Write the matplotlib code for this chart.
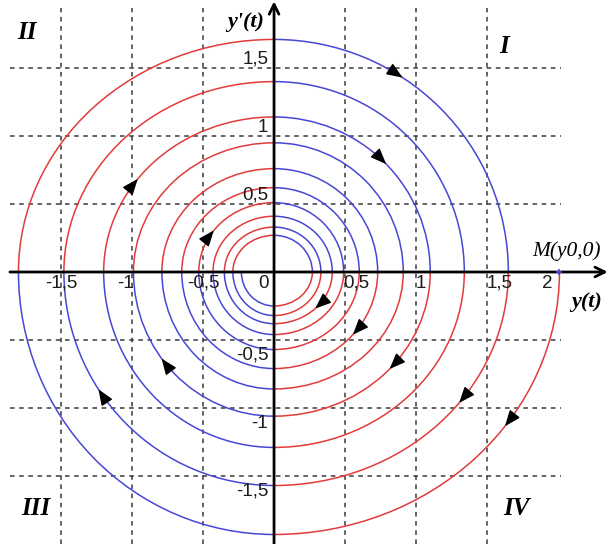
"""Phase portrait of a damped oscillator: spiral y'(t) vs y(t) drawn as quarter arcs."""

from __future__ import annotations

import matplotlib

matplotlib.use("Agg")
import matplotlib.pyplot as plt
import numpy as np
from matplotlib.patches import Arc

# axis crossings of the spiral, clockwise from M: +x, -y, -x, +y, +x, ...
CROSSINGS = [
    2.01, 1.93, 1.80, 1.71,
    1.65, 1.57, 1.48, 1.40,
    1.34, 1.29, 1.20, 1.14,
    1.10, 1.06, 0.99, 0.95,
    0.91, 0.86, 0.79, 0.76,
    0.73, 0.71, 0.65, 0.62,
    0.60, 0.57, 0.53, 0.51,
    0.49, 0.46, 0.43, 0.41,
    0.41, 0.38, 0.35, 0.33,
    0.33, 0.32, 0.29, 0.27,
    0.27, 0.25, 0.23,
]

# direction arrows: which quarter of the spiral and how far along it
ARROW_QUARTERS = [0, 3, 4, 5, 10, 11, 12, 13, 20, 26, 32]
ARROW_FRACTIONS = [0.40, 0.37, 0.42, 0.63, 0.41, 0.51, 0.47, 0.59, 0.45, 0.41, 0.50]

X_TICKS = [-1.5, -1.0, -0.5, 0.0, 0.5, 1.0, 1.5, 2.0]
X_TICK_LABELS = ["-1,5", "-1", "-0,5", "0", "0,5", "1", "1,5", "2"]
Y_TICKS = [-1.5, -1.0, -0.5, 0.5, 1.0, 1.5]
Y_TICK_LABELS = ["-1,5", "-1", "-0,5", "0,5", "1", "1,5"]
GRID_VALUES = [-1.5, -1.0, -0.5, 0.5, 1.0, 1.5]

QUADRANTS = ["I", "II", "III", "IV"]

RED = "#e23b3b"
BLUE = "#4747d6"


def quarter_axes(k: int) -> tuple[float, float]:
    # quarters that start on the x axis take their x semi-axis from the start point
    if k % 2 == 0:
        return CROSSINGS[k], CROSSINGS[k + 1]
    return CROSSINGS[k + 1], CROSSINGS[k]


def draw_spiral(ax: plt.Axes) -> None:
    for k in range(len(CROSSINGS) - 1):
        a, b = quarter_axes(k)
        theta1 = 270 - 90 * (k % 4)
        arc = Arc((0, 0), 2 * a, 2 * b, theta1=theta1, theta2=theta1 + 90,
                  color=RED if k % 2 == 0 else BLUE, lw=1.1, zorder=3)
        ax.add_patch(arc)


def draw_arrows(ax: plt.Axes) -> None:
    for k, frac in zip(ARROW_QUARTERS, ARROW_FRACTIONS):
        a, b = quarter_axes(k)
        phi = np.deg2rad(-90 * (k % 4) - 90 * frac)
        point = np.array([a * np.cos(phi), b * np.sin(phi)])
        direction = np.array([a * np.sin(phi), -b * np.cos(phi)])
        direction /= np.linalg.norm(direction)
        ax.annotate("", xy=point, xytext=point - 0.07 * direction,
                    arrowprops=dict(arrowstyle="-|>,head_length=0.75,head_width=0.3",
                                    color="black", lw=1.0, shrinkA=0, shrinkB=0,
                                    mutation_scale=13),
                    zorder=5)


def draw_frame(ax: plt.Axes) -> None:
    grid_style = dict(color="#3a3a3a", lw=1.1, linestyles=(0, (3, 3)), zorder=1)
    ax.vlines(GRID_VALUES, -2.0, 1.94, **grid_style)
    ax.hlines(GRID_VALUES, -1.86, 2.02, **grid_style)

    axis_props = dict(arrowstyle="->,head_length=0.5,head_width=0.25", color="black",
                      lw=2.0, shrinkA=0, shrinkB=0, mutation_scale=14)
    ax.annotate("", xy=(2.35, 0), xytext=(-1.86, 0), arrowprops=axis_props,
                annotation_clip=False, zorder=6)
    ax.annotate("", xy=(0, 1.99), xytext=(0, -2.0), arrowprops=axis_props,
                annotation_clip=False, zorder=6)

    tick_font = dict(family="Liberation Sans", fontsize=13.5, color="#1c1c1c", zorder=7)
    x_align = {"-1,5": ("center", 0.0), "-1": ("right", 0.01), "-0,5": ("center", 0.0),
               "0": ("right", -0.04), "0,5": ("left", -0.01), "1": ("left", 0.0),
               "1,5": ("left", 0.0), "2": ("right", -0.04)}
    for value, label in zip(X_TICKS, X_TICK_LABELS):
        ha, shift = x_align[label]
        ax.text(value + shift, -0.02, label, ha=ha, va="top", **tick_font)
    for value, label in zip(Y_TICKS, Y_TICK_LABELS):
        if value > 0:
            ax.text(-0.04, value + 0.0, label, ha="right", va="bottom", **tick_font)
        else:
            ax.text(-0.04, value - 0.05, label, ha="right", va="top", **tick_font)

    serif = dict(family="Liberation Serif", style="italic", zorder=7)
    ax.text(-0.2, 1.84, "y'(t)", ha="center", va="center", fontsize=16, weight="bold", **serif)
    ax.text(2.2, -0.22, "y(t)", ha="center", va="center", fontsize=16, weight="bold", **serif)
    ax.text(2.06, 0.15, "M(y0,0)", ha="center", va="center", fontsize=15.5, **serif)
    ax.plot([CROSSINGS[0]], [0], marker="+", color=BLUE, ms=5, mew=1.2, zorder=8)

    quadrant_pos = {"I": (1.62, 1.66), "II": (-1.74, 1.76), "III": (-1.68, -1.74), "IV": (1.71, -1.74)}
    for name in QUADRANTS:
        x, y = quadrant_pos[name]
        ax.text(x, y, name, ha="center", va="center", fontsize=18, weight="bold", **serif)


def main() -> None:
    fig = plt.figure(figsize=(6.1, 5.44), dpi=100)
    ax = fig.add_axes([0, 0, 1, 1])
    ax.set_xlim(-1.93, 2.366)
    ax.set_ylim(-2.0, 2.0)
    ax.axis("off")

    draw_frame(ax)
    draw_spiral(ax)
    draw_arrows(ax)

    fig.savefig("out.png", dpi=100, facecolor="white")
    plt.close(fig)


if __name__ == "__main__":
    main()
